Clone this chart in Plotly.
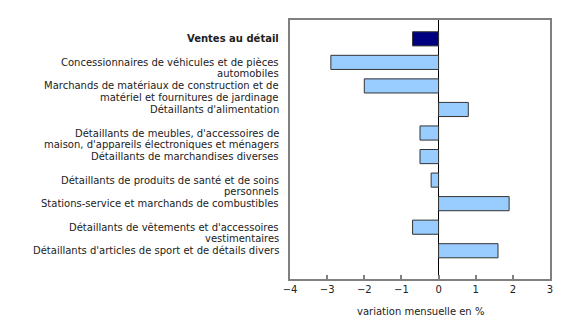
import plotly.graph_objects as go

categories = [
    "<b>Ventes au détail</b>",
    "Concessionnaires de véhicules et de pièces<br>automobiles",
    "Marchands de matériaux de construction et de<br>matériel et fournitures de jardinage",
    "Détaillants d'alimentation",
    "Détaillants de meubles, d'accessoires de<br>maison, d'appareils électroniques et ménagers",
    "Détaillants de marchandises diverses",
    "Détaillants de produits de santé et de soins<br>personnels",
    "Stations-service et marchands de combustibles",
    "Détaillants de vêtements et d'accessoires<br>vestimentaires",
    "Détaillants d'articles de sport et de détails divers",
]
values = [-0.7, -2.9, -2.0, 0.8, -0.5, -0.5, -0.2, 1.9, -0.7, 1.6]
x_ticks = [-4, -3, -2, -1, 0, 1, 2, 3]
x_title = "variation mensuelle en %"

colors = ["#000080"] + ["#99CCFF"] * (len(values) - 1)
positions = list(range(len(categories)))

FONT = "DejaVu Sans, Verdana, sans-serif"
LINE_GAP = 11.5

fig = go.Figure()
fig.add_trace(go.Bar(
    x=values, y=positions, orientation="h",
    marker=dict(color=colors, line=dict(color="#333333", width=1)),
    width=0.6, hoverinfo="x",
))

for i, lab in enumerate(categories):
    for k, line in enumerate(lab.split("<br>")):
        fig.add_annotation(
            x=0, xref="paper", y=i, yref="y",
            text=line, showarrow=False, xanchor="right", yanchor="middle",
            align="right", xshift=-9, yshift=-k * LINE_GAP,
            font=dict(family=FONT, size=10, color="#222222"),
        )

fig.add_annotation(
    x=0.5, xref="paper", y=0, yref="paper", yshift=-32.5,
    text=x_title, showarrow=False, xanchor="center", yanchor="middle",
    font=dict(family=FONT, size=10, color="#222222"),
)

fig.update_layout(
    width=580, height=320,
    margin=dict(l=290, r=30, t=20, b=41, autoexpand=False),
    plot_bgcolor="white", paper_bgcolor="white",
    showlegend=False,
    font=dict(family=FONT, size=10, color="#222222"),
    xaxis=dict(
        range=[-4, 3], tickvals=x_ticks, ticks="inside", ticklen=4,
        tickcolor="#808080", tickwidth=1.5,
        showline=True, linecolor="#808080", linewidth=2, mirror=True,
        showgrid=False, zeroline=True, zerolinecolor="#000000", zerolinewidth=1,
        automargin=False, fixedrange=True,
    ),
    yaxis=dict(
        range=[10.2, -0.8], showticklabels=False, ticks="",
        showline=True, linecolor="#808080", linewidth=2, mirror=True,
        showgrid=False, zeroline=False, automargin=False, fixedrange=True,
    ),
)

fig.write_html("out.html")
